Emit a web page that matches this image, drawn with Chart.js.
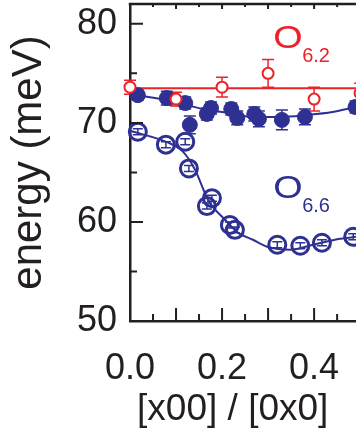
<!DOCTYPE html>
<html>
<head>
<meta charset="utf-8">
<script src="https://cdn.jsdelivr.net/npm/chart.js@4"></script>
<style>
  html, body { margin: 0; padding: 0; background: #fff; overflow: hidden; }
  #wrap { width: 356px; height: 432px; }
</style>
</head>
<body>
<div id="wrap"><canvas id="chart" width="356" height="432"></canvas></div>
<script>
// O6.2 (red open circles)
const redX = [0.0, 0.1, 0.2, 0.3, 0.4, 0.5];
const redY = [73.6, 72.4, 73.6, 75.0, 72.4, 73.0];
const redErr = [0.7, 0.7, 1.0, 1.4, 1.2, 1.0];
const redLineX = [0.0, 0.5];
const redLineY = [73.5, 73.5];

// O6.6 upper branch (filled blue)
const fillX = [0.017, 0.08, 0.12, 0.13, 0.167, 0.176, 0.22, 0.233, 0.27, 0.28, 0.33, 0.38, 0.49];
const fillY = [72.8, 72.5, 72.0, 69.8, 70.9, 71.5, 71.4, 70.5, 70.9, 70.4, 70.3, 70.6, 71.6];
const fillErr = [0.5, 0.7, 0.6, 0.9, 0.6, 0.6, 0.6, 0.7, 0.7, 0.8, 1.0, 0.8, 0.6];
const fillFitX = [0.0, 0.08, 0.124, 0.167, 0.217, 0.267, 0.326, 0.385, 0.44, 0.49];
const fillFitY = [72.9, 72.3, 71.8, 71.3, 71.0, 70.6, 70.6, 70.8, 71.1, 71.6];

// O6.6 lower branch (open blue)
const openX = [0.017, 0.078, 0.12, 0.128, 0.167, 0.178, 0.217, 0.228, 0.32, 0.37, 0.417, 0.485];
const openY = [69.1, 67.8, 68.1, 65.4, 61.6, 62.4, 59.7, 59.2, 57.7, 57.6, 57.9, 58.5];
const openErr = [0.3, 0.3, 0.3, 0.3, 0.3, 0.3, 0.3, 0.3, 0.3, 0.3, 0.3, 0.3];
const openFitX = [0.0, 0.083, 0.115, 0.141, 0.17, 0.207, 0.235, 0.267, 0.298, 0.348, 0.398, 0.457, 0.491];
const openFitY = [69.2, 68.0, 67.1, 65.3, 62.2, 60.2, 58.9, 58.2, 57.5, 57.2, 57.7, 58.3, 58.5];

const xTicks = [0.0, 0.2, 0.4];
const yTicks = [50, 60, 70, 80];

const RED = "#ec2228";
const BLUE = "#2e3192";
const INK = "#231f20";
const FONT = "'Liberation Sans', Arial, sans-serif";

const pts = (xs, ys) => xs.map((x, i) => ({ x: x, y: ys[i] }));

// drop the label padding chart.js reserves around the plot
const noPad = (s) => {
  s.paddingTop = 0;
  s.paddingBottom = 0;
  s.paddingLeft = 0;
  s.paddingRight = 0;
};

// error bars, inward ticks, top frame and the O labels
const extras = {
  id: "extras",
  beforeDatasetsDraw(chart) {
    const ctx = chart.ctx;
    const xs = chart.scales.x, ys = chart.scales.y;
    chart.data.datasets.forEach((ds) => {
      if (!ds.errors) return;
      ctx.save();
      ctx.strokeStyle = ds.borderColor;
      ctx.lineWidth = 1.5;
      ds.data.forEach((p, i) => {
        const px = xs.getPixelForValue(p.x);
        const top = ys.getPixelForValue(p.y + ds.errors[i]);
        const bot = ys.getPixelForValue(p.y - ds.errors[i]);
        const w = ds.capWidth;
        ctx.beginPath();
        ctx.moveTo(px, top); ctx.lineTo(px, bot);
        ctx.moveTo(px - w, top); ctx.lineTo(px + w, top);
        ctx.moveTo(px - w, bot); ctx.lineTo(px + w, bot);
        ctx.stroke();
      });
      ctx.restore();
    });
  },
  afterDraw(chart) {
    const ctx = chart.ctx;
    const xs = chart.scales.x, ys = chart.scales.y;
    const a = chart.chartArea;
    ctx.save();
    ctx.strokeStyle = INK;
    ctx.lineWidth = 2.5;
    ctx.beginPath();
    ctx.moveTo(a.left - 1.25, a.top);
    ctx.lineTo(a.right, a.top);
    ctx.stroke();

    ctx.lineWidth = 2;
    ctx.beginPath();
    for (let v = 55; v <= 80; v += 5) {
      const py = ys.getPixelForValue(v);
      const len = v % 10 === 0 ? 13 : 7;
      ctx.moveTo(a.left, py); ctx.lineTo(a.left + len, py);
    }
    for (let k = 1; k <= 9; k++) {
      const px = xs.getPixelForValue(k * 0.05);
      const len = k % 2 === 0 ? 13 : 7;
      ctx.moveTo(px, a.bottom); ctx.lineTo(px, a.bottom - len);
      ctx.moveTo(px, a.top); ctx.lineTo(px, a.top + (k % 2 === 0 ? 5 : 3));
    }
    ctx.stroke();

    const labels = [
      { x: 0.311, y: 77.58, main: "O", sub: "6.2", color: RED },
      { x: 0.311, y: 62.42, main: "O", sub: "6.6", color: BLUE },
    ];
    labels.forEach((l) => {
      const px = xs.getPixelForValue(l.x);
      const py = ys.getPixelForValue(l.y);
      ctx.fillStyle = l.color;
      ctx.textBaseline = "alphabetic";
      ctx.textAlign = "left";
      ctx.save();
      ctx.translate(px, py);
      ctx.scale(1.22, 1);
      ctx.font = "31px " + FONT;
      ctx.fillText(l.main, 0, 0);
      ctx.restore();
      ctx.font = "20px " + FONT;
      ctx.fillText(l.sub, px + 29, py + 14);
    });
    ctx.restore();
  },
};

new Chart(document.getElementById("chart"), {
  type: "scatter",
  data: {
    datasets: [
      {
        label: "O6.2",
        data: pts(redX, redY),
        errors: redErr,
        capWidth: 6,
        showLine: false,
        borderColor: RED,
        backgroundColor: "#ffffff",
        pointRadius: 5.5,
        pointBorderWidth: 2,
        order: 1,
        clip: false,
      },
      {
        label: "O6.2 line",
        type: "line",
        data: pts(redLineX, redLineY),
        borderColor: RED,
        borderWidth: 2,
        pointRadius: 0,
        order: 6,
        clip: false,
      },
      {
        label: "O6.6 filled",
        data: pts(fillX, fillY),
        errors: fillErr,
        capWidth: 6,
        showLine: false,
        borderColor: BLUE,
        backgroundColor: BLUE,
        pointRadius: 7.5,
        pointBorderWidth: 1,
        order: 2,
        clip: false,
      },
      {
        label: "O6.6 filled fit",
        type: "line",
        data: pts(fillFitX, fillFitY),
        borderColor: BLUE,
        borderWidth: 2,
        pointRadius: 0,
        cubicInterpolationMode: "monotone",
        order: 5,
        clip: false,
      },
      {
        label: "O6.6 open",
        data: pts(openX, openY),
        errors: openErr,
        capWidth: 5,
        showLine: false,
        borderColor: BLUE,
        backgroundColor: "rgba(255,255,255,0)",
        pointRadius: 8.5,
        pointBorderWidth: 3,
        order: 3,
        clip: false,
      },
      {
        label: "O6.6 open fit",
        type: "line",
        data: pts(openFitX, openFitY),
        borderColor: BLUE,
        borderWidth: 2,
        pointRadius: 0,
        cubicInterpolationMode: "monotone",
        order: 4,
        clip: false,
      },
    ],
  },
  options: {
    responsive: false,
    animation: false,
    devicePixelRatio: 1,
    layout: { autoPadding: false, padding: { top: 4, right: 0, bottom: 0, left: 0 } },
    plugins: {
      legend: { display: false },
      tooltip: { enabled: false },
    },
    scales: {
      x: {
        type: "linear",
        position: "bottom",
        min: 0,
        max: 0.491,
        afterBuildTicks: (s) => { s.ticks = xTicks.map((v) => ({ value: v })); },
        afterFit: (s) => { s.height = 111; noPad(s); },
        grid: { display: false, drawTicks: false },
        border: { display: true, color: INK, width: 2.5 },
        ticks: {
          padding: 26,
          color: INK,
          font: { family: FONT, size: 36 },
          callback: (v) => v.toFixed(1),
          maxRotation: 0,
        },
        title: {
          display: true,
          text: "[x00] / [0x0]\u00a0\u00a0",
          color: INK,
          font: { family: FONT, size: 37 },
          padding: { top: 0, bottom: 0 },
        },
      },
      y: {
        type: "linear",
        min: 50,
        max: 82,
        afterBuildTicks: (s) => { s.ticks = yTicks.map((v) => ({ value: v })); },
        afterFit: (s) => { s.width = 130; noPad(s); },
        grid: { display: false, drawTicks: false },
        border: { display: true, color: INK, width: 2.5 },
        ticks: {
          padding: 13,
          color: INK,
          font: { family: FONT, size: 36 },
        },
        title: {
          display: true,
          text: "energy (meV)",
          color: INK,
          font: { family: FONT, size: 42 },
          padding: { top: 4, bottom: 0 },
        },
      },
    },
  },
  plugins: [extras],
});
</script>
</body>
</html>
